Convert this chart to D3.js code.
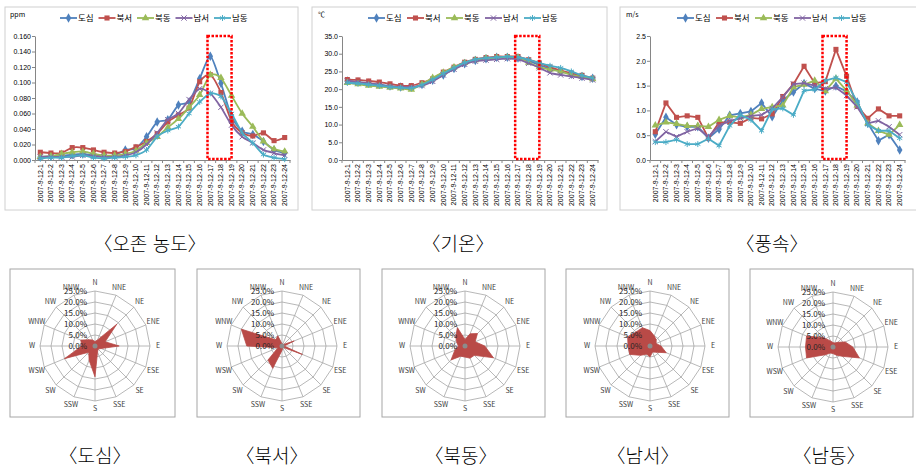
<!DOCTYPE html>
<html lang="ko">
<head>
<meta charset="utf-8">
<script src="https://cdn.jsdelivr.net/npm/d3@7"></script>
<style>
  body { margin: 0; background: #fff; }
  svg { font-family: "Noto Sans CJK KR", "Noto Sans", sans-serif; }
</style>
</head>
<body>
<svg id="chart" width="916" height="467"></svg>
<script>
// categories
var hours = ["2007-9-12-1","2007-9-12-2","2007-9-12-3","2007-9-12-4","2007-9-12-5","2007-9-12-6",
             "2007-9-12-7","2007-9-12-8","2007-9-12-9","2007-9-12-10","2007-9-12-11","2007-9-12-12",
             "2007-9-12-13","2007-9-12-14","2007-9-12-15","2007-9-12-16","2007-9-12-17","2007-9-12-18",
             "2007-9-12-19","2007-9-12-20","2007-9-12-21","2007-9-12-22","2007-9-12-23","2007-9-12-24"];
var stations = ["도심","북서","북동","남서","남동"];
var directions = ["N","NNE","NE","ENE","E","ESE","SE","SSE","S","SSW","SW","WSW","W","WNW","NW","NNW"];

// ozone (ppm)
var ozoneDosim  = [0.004,0.005,0.005,0.007,0.008,0.006,0.005,0.006,0.013,0.015,0.030,0.049,0.052,0.071,0.075,0.105,0.134,0.099,0.056,0.037,0.033,0.024,0.013,0.009];
var ozoneBukseo = [0.010,0.009,0.009,0.016,0.016,0.013,0.010,0.009,0.011,0.017,0.024,0.034,0.049,0.058,0.067,0.101,0.110,0.087,0.050,0.035,0.031,0.035,0.025,0.029];
var ozoneBukdong= [0.004,0.005,0.008,0.010,0.011,0.008,0.006,0.006,0.008,0.012,0.022,0.030,0.042,0.053,0.068,0.084,0.110,0.106,0.083,0.060,0.043,0.024,0.014,0.011];
var ozoneNamseo = [0.004,0.004,0.004,0.004,0.006,0.005,0.004,0.004,0.006,0.010,0.020,0.035,0.052,0.060,0.078,0.092,0.086,0.068,0.045,0.030,0.022,0.013,0.009,0.006];
var ozoneNamdong= [0.002,0.003,0.003,0.005,0.006,0.003,0.002,0.003,0.004,0.006,0.013,0.030,0.038,0.043,0.060,0.075,0.086,0.082,0.060,0.035,0.022,0.007,0.003,0.001];

// temperature (°C)
var tempDosim  = [22.3,22.0,21.7,21.3,20.9,20.6,20.5,21.3,22.5,24.0,25.8,27.2,28.1,28.6,29.0,29.0,28.8,28.0,26.8,25.8,25.0,24.2,23.6,23.1];
var tempBukseo = [22.7,22.6,22.3,22.0,21.5,21.0,21.0,21.8,22.9,24.8,26.2,27.6,28.4,28.9,29.2,29.2,29.2,28.3,27.4,26.2,25.3,24.5,23.9,23.1];
var tempBukdong= [21.8,21.4,21.0,20.7,20.4,20.2,19.9,21.4,23.2,24.7,26.2,27.4,28.2,28.7,28.9,29.0,28.9,27.5,26.2,25.5,25.0,24.0,23.5,22.8];
var tempNamseo = [22.3,22.0,21.6,21.2,20.8,20.6,20.6,21.0,22.2,24.0,25.6,27.0,27.9,28.2,28.4,28.6,28.4,27.3,26.0,24.6,24.0,23.6,23.1,22.6];
var tempNamdong= [21.8,21.6,21.3,21.0,20.6,20.4,20.3,21.2,22.7,24.4,26.0,27.5,28.4,28.8,29.0,29.2,29.0,28.3,27.4,26.6,26.0,25.0,23.9,23.2];

// wind speed (m/s)
var windDosim  = [0.52,0.86,0.71,0.67,0.67,0.44,0.62,0.90,0.94,0.98,1.15,0.87,1.20,1.37,1.54,1.44,1.39,1.49,1.38,1.17,0.74,0.39,0.51,0.20];
var windBukseo = [0.57,1.15,0.86,0.89,0.86,0.44,0.76,0.76,0.74,0.85,0.83,0.93,1.28,1.53,1.89,1.55,1.58,2.23,1.69,1.08,0.84,1.03,0.89,0.89];
var windBukdong= [0.70,0.76,0.73,0.69,0.69,0.67,0.81,0.89,0.86,0.91,1.03,1.07,1.10,1.47,1.52,1.60,1.39,1.64,1.40,1.10,0.74,0.59,0.51,0.71];
var windNamseo = [0.37,0.57,0.47,0.57,0.64,0.47,0.69,0.79,0.84,0.89,0.91,1.04,1.27,1.53,1.55,1.50,1.44,1.46,1.30,1.07,0.74,0.79,0.67,0.51];
var windNamdong= [0.36,0.36,0.41,0.32,0.32,0.43,0.29,0.69,0.91,0.81,0.59,1.02,1.04,0.91,1.40,1.42,1.60,1.66,1.57,1.17,0.71,0.59,0.59,0.44];

// wind direction frequency (%), N clockwise
var roseDosim  = [2,3,14,5,11,3,2,3,14,7,4,15,6,7,4,3];
var roseBukseo = [1,1,1,6,1,10,1,1,2,11,9,2,16,20,4,5];
var roseBukdong= [3,6,8,5,9,14,6,6,5,5,9,5,3,4,6,9];
var roseNamseo = [7,5,4,3,5,8,4,3,5,4,6,10,10,11,9,9];
var roseNamdong= [2,2,3,6,9,13,6,4,3,3,5,13,12.5,13,6,3];

var colors = ["#4f81bd","#c0504d","#9bbb59","#8064a2","#4bacc6"];
var symbols = [d3.symbolDiamond, d3.symbolSquare, d3.symbolTriangle, d3.symbolX, d3.symbolAsterisk];
var symSize = [26, 26, 24, 20, 24];

var svg = d3.select("#chart");

function marker(g, i, x, y) {
    var stroke = (i >= 3);
    g.append("path")
     .attr("d", d3.symbol().type(symbols[i]).size(symSize[i])())
     .attr("transform", "translate(" + x + "," + y + ")")
     .attr("fill", stroke ? "none" : colors[i])
     .attr("stroke", stroke ? colors[i] : "none")
     .attr("stroke-width", 1);
}

function lineChart(cfg) {
    var g = svg.append("g");
    g.append("rect")
     .attr("x", cfg.frame[0]).attr("y", cfg.frame[1])
     .attr("width", cfg.frame[2]).attr("height", cfg.frame[3])
     .attr("fill", "none").attr("stroke", "#d0d0d0");

    var x = d3.scaleBand().domain(hours).range([cfg.left, cfg.right]);
    var y = d3.scaleLinear().domain([0, cfg.max]).range([160, 36]);
    var bw = x.bandwidth();

    var ya = g.append("g").attr("transform", "translate(" + cfg.left + ",0)")
        .call(d3.axisLeft(y).tickValues(cfg.ticks).tickFormat(d3.format(cfg.fmt)).tickSize(3).tickSizeOuter(0));
    ya.select(".domain").attr("stroke", "#868686");
    ya.selectAll(".tick line").attr("stroke", "#868686");
    ya.selectAll("text").attr("font-size", 7).attr("fill", "#000").attr("x", -4);

    var xa = g.append("g").attr("transform", "translate(0,160)")
        .call(d3.axisBottom(x).tickSize(0).tickSizeOuter(0));
    xa.select(".domain").attr("stroke", "#868686");
    xa.selectAll("text")
      .attr("font-size", 7).attr("fill", "#000")
      .attr("transform", "rotate(-90)")
      .attr("text-anchor", "end").attr("x", -4).attr("y", 0).attr("dy", "0.32em");
    g.selectAll(".xtick").data(hours.concat([null])).enter().append("line")
      .attr("x1", function(d){ return d ? x(d) : cfg.right; })
      .attr("x2", function(d){ return d ? x(d) : cfg.right; })
      .attr("y1", 160).attr("y2", 163).attr("stroke", "#868686");

    g.append("text").attr("x", cfg.unitX).attr("y", 17).attr("font-size", 7).text(cfg.unit);

    var line = d3.line()
        .x(function(d, i){ return x(hours[i]) + bw / 2; })
        .y(function(d){ return y(d); })
        .curve(cfg.smooth ? d3.curveCardinal.tension(0.3) : d3.curveLinear);

    cfg.series.forEach(function(s, i) {
        g.append("path").attr("d", line(s)).attr("fill", "none")
         .attr("stroke", colors[i]).attr("stroke-width", 1.8);
        s.forEach(function(v, j) { marker(g, i, x(hours[j]) + bw / 2, y(v)); });
    });

    // highlight box
    g.append("rect")
     .attr("x", x(hours[16]) + 2.5).attr("y", y(cfg.max))
     .attr("width", x(hours[18]) + bw / 2 - x(hours[16]) - 2.5)
     .attr("height", y(0) - y(cfg.max) - 1)
     .attr("fill", "none").attr("stroke", "#ff0000")
     .attr("stroke-width", 2.5).attr("stroke-dasharray", "2.5,1.5");

    // legend
    stations.forEach(function(name, i) {
        var lx = cfg.legendX + i * cfg.legendStep;
        g.append("line").attr("x1", lx).attr("x2", lx + 17).attr("y1", 18).attr("y2", 18)
         .attr("stroke", colors[i]).attr("stroke-width", 1.8);
        marker(g, i, lx + 8.5, 18);
        g.append("text").attr("x", lx + 18).attr("y", 21).attr("font-size", 8.5).text(name);
    });

    svg.append("text").attr("x", cfg.titleX).attr("y", 251).attr("text-anchor", "middle")
       .attr("font-size", 19).attr("font-weight", 300).text(cfg.title);
}

lineChart({ frame: [5, 7, 293, 203], left: 35, right: 290, max: 0.16,
            ticks: [0,0.02,0.04,0.06,0.08,0.1,0.12,0.14,0.16], fmt: ".3f", unit: "ppm", unitX: 10,
            legendX: 60, legendStep: 38.5, smooth: true, titleX: 150, title: "〈오존 농도〉",
            series: [ozoneDosim, ozoneBukseo, ozoneBukdong, ozoneNamseo, ozoneNamdong] });
lineChart({ frame: [312, 7, 295, 203], left: 342, right: 598, max: 35,
            ticks: [0,5,10,15,20,25,30,35], fmt: ".1f", unit: "℃", unitX: 318,
            legendX: 368, legendStep: 39, smooth: true, titleX: 458, title: "〈기온〉",
            series: [tempDosim, tempBukseo, tempBukdong, tempNamseo, tempNamdong] });
lineChart({ frame: [620, 7, 300, 203], left: 650, right: 905, max: 2.5,
            ticks: [0,0.5,1,1.5,2,2.5], fmt: ".1f", unit: "m/s", unitX: 626,
            legendX: 677, legendStep: 39, smooth: false, titleX: 772, title: "〈풍속〉",
            series: [windDosim, windBukseo, windBukdong, windNamseo, windNamdong] });

// wind roses
var rScale = d3.scaleLinear().domain([0, 25]).range([0, 55]);
var step = 2 * Math.PI / 16;
var radial = d3.lineRadial()
    .angle(function(d, i){ return i * step; })
    .radius(function(d){ return rScale(d); })
    .curve(d3.curveLinearClosed);

function rose(cx, cy, fx, fw, values, title, titleX) {
    var g = svg.append("g");
    g.append("rect").attr("x", fx).attr("y", 269).attr("width", fw).attr("height", 148)
     .attr("fill", "none").attr("stroke", "#a6a6a6");
    var c = g.append("g").attr("transform", "translate(" + cx + "," + cy + ")");
    [5, 10, 15, 20, 25].forEach(function(v) {
        c.append("path").attr("d", radial(directions.map(function(){ return v; })))
         .attr("fill", "none").attr("stroke", "#a6a6a6").attr("stroke-width", 0.8);
    });
    directions.forEach(function(d, i) {
        var a = i * step;
        c.append("line").attr("x1", 0).attr("y1", 0)
         .attr("x2", rScale(25) * Math.sin(a)).attr("y2", -rScale(25) * Math.cos(a))
         .attr("stroke", "#a6a6a6").attr("stroke-width", 0.8);
        c.append("text")
         .attr("x", 63 * Math.sin(a)).attr("y", -63 * Math.cos(a)).attr("dy", "0.35em")
         .attr("text-anchor", "middle").attr("font-size", 7).attr("fill", "#404040").text(d);
    });
    c.append("path").attr("d", radial(values)).attr("fill", "#b94a47").attr("stroke", "#b94a47")
     .attr("stroke-width", 0.8);
    c.append("circle").attr("r", 2.5).attr("fill", "#8c8c8c");
    [0, 5, 10, 15, 20, 25].forEach(function(v) {
        c.append("text").attr("x", -8).attr("y", -rScale(v)).attr("dy", "0.35em")
         .attr("text-anchor", "end").attr("font-size", 8).attr("fill", "#262626")
         .text(d3.format(".1f")(v) + "%");
    });
    svg.append("text").attr("x", titleX).attr("y", 463).attr("text-anchor", "middle")
       .attr("font-size", 19).attr("font-weight", 300).text(title);
}

rose(95, 346, 10, 165, roseDosim, "〈도심〉", 95);
rose(282, 346, 197, 163, roseBukseo, "〈북서〉", 272);
rose(465, 346, 382, 163, roseBukdong, "〈북동〉", 461);
rose(650, 346, 566, 163, roseNamseo, "〈남서〉", 643);
rose(833, 347, 750, 163, roseNamdong, "〈남동〉", 829);
</script>
</body>
</html>
